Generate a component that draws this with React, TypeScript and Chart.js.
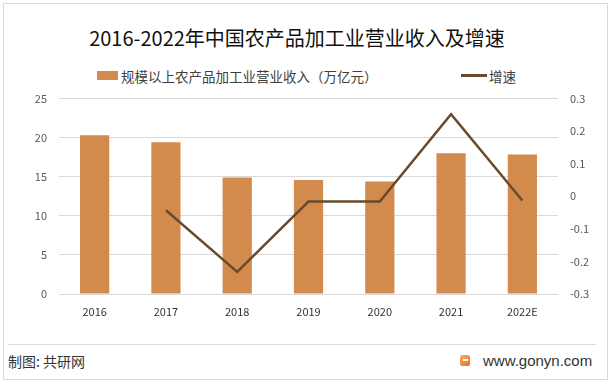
import React, { useEffect, useRef } from "react";
import { Chart, registerables } from "chart.js";

Chart.register(...registerables);

const categories = ["2016", "2017", "2018", "2019", "2020", "2021", "2022E"];
const revenue = [20.3, 19.4, 14.9, 14.6, 14.4, 18.0, 17.85];
const growth = [null, -0.043, -0.232, -0.016, -0.016, 0.252, -0.013];
const leftTicks = { min: 0, max: 25, step: 5 };
const rightTicks = { min: -0.3, max: 0.3, step: 0.1 };

const BAR_COLOR = "#D38B4D";
const LINE_COLOR = "#684A2C";
const CJK = '"Noto Sans CJK SC", "Noto Sans", sans-serif';

export default function App() {
  const ref = useRef<HTMLCanvasElement | null>(null);

  useEffect(() => {
    if (!ref.current) return;
    const chart = new Chart(ref.current, {
      type: "bar",
      data: {
        labels: categories,
        datasets: [
          {
            type: "line",
            label: "增速",
            data: growth as any,
            yAxisID: "y1",
            borderColor: LINE_COLOR,
            backgroundColor: LINE_COLOR,
            borderWidth: 2.5,
            pointRadius: 0,
            tension: 0,
            order: 0,
          } as any,
          {
            type: "bar",
            label: "规模以上农产品加工业营业收入（万亿元）",
            data: revenue,
            yAxisID: "y",
            backgroundColor: BAR_COLOR,
            categoryPercentage: 1,
            barPercentage: 0.41,
            order: 1,
          },
        ],
      },
      options: {
        responsive: false,
        animation: false,
        layout: { padding: { top: 9, left: 0, right: 0, bottom: 0 } },
        plugins: {
          legend: { display: false },
          title: { display: false },
          tooltip: { enabled: false },
        },
        scales: {
          x: {
            grid: { display: false, drawTicks: false },
            border: { display: false },
            ticks: { padding: 11, color: "#333", font: { family: CJK, size: 11 } },
            afterFit: (s: any) => {
              s.height = 30;
            },
          },
          y: {
            position: "left",
            min: leftTicks.min,
            max: leftTicks.max,
            grid: { color: "#D9D9D9", drawTicks: false, lineWidth: 1 },
            border: { display: false },
            ticks: {
              stepSize: leftTicks.step,
              padding: 12,
              color: "#595959",
              font: { family: CJK, size: 11 },
            },
            afterFit: (s: any) => {
              s.width = 59;
            },
          },
          y1: {
            position: "right",
            min: rightTicks.min,
            max: rightTicks.max,
            grid: { display: false, drawTicks: false },
            border: { display: false },
            ticks: {
              stepSize: rightTicks.step,
              padding: 12,
              color: "#595959",
              font: { family: CJK, size: 11 },
              callback: (v: any) => String(Number(Number(v).toFixed(1))),
            },
            afterFit: (s: any) => {
              s.width = 55;
            },
          },
        },
      },
    });
    return () => chart.destroy();
  }, []);

  return (
    <div
      style={{
        position: "absolute",
        left: 0,
        top: 0,
        width: 613,
        height: 383,
        background: "#fff",
        overflow: "hidden",
        fontFamily: CJK,
      }}
    >
      <div
        style={{
          position: "absolute",
          left: 3,
          top: 3,
          width: 603,
          height: 375,
          border: "1px solid #D9D9D9",
        }}
      />
      <div
        style={{
          position: "absolute",
          left: 0,
          width: 594,
          top: 24,
          textAlign: "center",
          fontSize: 20,
          lineHeight: "28px",
          color: "#111",
        }}
      >
        2016-2022年中国农产品加工业营业收入及增速
      </div>
      <div style={{ position: "absolute", left: 97, top: 71, width: 21, height: 9, background: BAR_COLOR }} />
      <div
        style={{
          position: "absolute",
          left: 121,
          top: 66,
          fontSize: 13.5,
          lineHeight: "20px",
          color: "#404040",
          whiteSpace: "nowrap",
        }}
      >
        规模以上农产品加工业营业收入（万亿元）
      </div>
      <div style={{ position: "absolute", left: 461, top: 74, width: 26, height: 3, background: LINE_COLOR }} />
      <div
        style={{
          position: "absolute",
          left: 489,
          top: 66,
          fontSize: 13.5,
          lineHeight: "20px",
          color: "#404040",
          whiteSpace: "nowrap",
        }}
      >
        增速
      </div>
      <div style={{ position: "absolute", left: 0, top: 80, width: 613, height: 244 }}>
        <canvas ref={ref} width={613} height={244} style={{ display: "block", width: 613, height: 244 }} />
      </div>
      <div style={{ position: "absolute", left: 8, top: 344, width: 588, height: 1, background: "#D9D9D9" }} />
      <div
        style={{
          position: "absolute",
          left: 8,
          top: 351,
          fontSize: 14,
          lineHeight: "20px",
          color: "#333",
          whiteSpace: "nowrap",
        }}
      >
        制图: 共研网
      </div>
      <div
        style={{
          position: "absolute",
          left: 460,
          top: 355,
          width: 10,
          height: 11,
          borderRadius: 2,
          background: "linear-gradient(135deg, #F7B267 0%, #EE6A2C 100%)",
        }}
      >
        <div style={{ position: "absolute", left: 3, top: 4, width: 5, height: 2, background: "#fff" }} />
      </div>
      <div
        style={{
          position: "absolute",
          left: 483,
          top: 351,
          fontSize: 15,
          lineHeight: "20px",
          color: "#333",
          whiteSpace: "nowrap",
          fontFamily: '"Liberation Sans", Arial, sans-serif',
        }}
      >
        www.gonyn.com
      </div>
    </div>
  );
}
